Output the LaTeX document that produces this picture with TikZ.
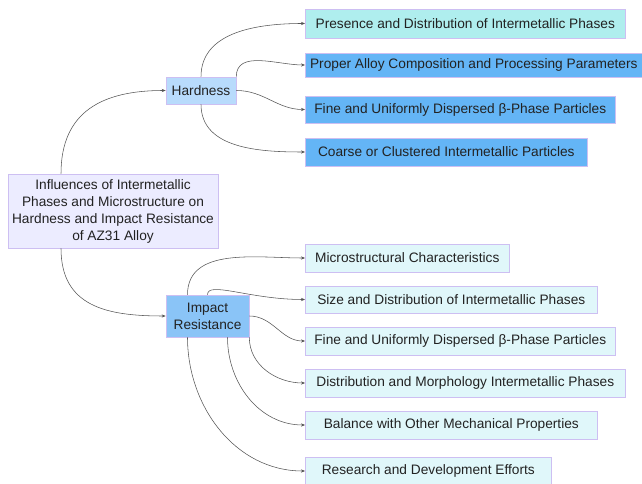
\documentclass[tikz,border=0pt]{standalone}
\usepackage{fontspec}
\setmainfont{Liberation Sans}
\usetikzlibrary{arrows.meta}
\definecolor{rootfill}{HTML}{ECECFF}
\definecolor{boxline}{HTML}{CDBFF2}
\definecolor{hardfill}{HTML}{B8DBFC}
\definecolor{impfill}{HTML}{8AC4F7}
\definecolor{presfill}{HTML}{AFEEEE}
\definecolor{hardkid}{HTML}{64B5F6}
\definecolor{impkid}{HTML}{E0F7FA}
\definecolor{linegray}{HTML}{555555}
\definecolor{inkgray}{HTML}{222222}
\tikzset{
  box/.style={draw=boxline, line width=0.6pt, inner sep=0pt, align=center,
    text=inkgray, font=\fontsize{13.7}{17}\selectfont},
  leaf/.style={box, anchor=west, minimum height=28pt},
  conn/.style={draw=linegray, line width=0.55pt, -{Stealth[length=4pt,width=3.2pt]}},
}
\begin{document}
\begin{tikzpicture}[x=1pt,y=1pt]
\useasboundingbox (0,0) rectangle (642,484);
\node[box, fill=rootfill, minimum width=210pt, minimum height=74pt] (root) at (113,273)
  {Influences of Intermetallic\\Phases and Microstructure on\\Hardness and Impact Resistance\\of AZ31 Alloy};
\node[box, fill=hardfill, minimum width=70pt, minimum height=27pt] (hard) at (201,393.5) {Hardness};
\node[box, fill=impfill, minimum width=83pt, minimum height=42pt] (imp) at (207.5,168) {Impact\\Resistance};

\node[leaf, fill=presfill, minimum width=320pt, minimum height=29pt] (pres) at (305,460.5) {Presence and Distribution of Intermetallic Phases};
\node[leaf, fill=hardkid, minimum width=337pt, minimum height=24pt] (prop) at (305,419) {Proper Alloy Composition and Processing Parameters};
\node[leaf, fill=hardkid, minimum width=310pt, minimum height=27pt] (fineh) at (305,374.5) {Fine and Uniformly Dispersed β-Phase Particles};
\node[leaf, fill=hardkid, minimum width=282pt] (coarse) at (305,332) {Coarse or Clustered Intermetallic Particles};

\node[leaf, fill=impkid, minimum width=204pt] (micro) at (305,226) {Microstructural Characteristics};
\node[leaf, fill=impkid, minimum width=292pt, minimum height=27pt] (size) at (305,184.5) {Size and Distribution of Intermetallic Phases};
\node[leaf, fill=impkid, minimum width=310pt] (finei) at (305,143) {Fine and Uniformly Dispersed β-Phase Particles};
\node[leaf, fill=impkid, minimum width=320pt] (distr) at (305,101) {Distribution and Morphology Intermetallic Phases};
\node[leaf, fill=impkid, minimum width=292pt] (bal) at (305,59) {Balance with Other Mechanical Properties};
\node[leaf, fill=impkid, minimum width=246pt] (res) at (305,13) {Research and Development Efforts};

\draw[conn] ([xshift=-52pt]root.north) to[out=90,in=180,looseness=1.2] (hard.west);
\draw[conn] ([xshift=-52pt]root.south) to[out=-90,in=180,looseness=1.2] (imp.west);

\draw[conn] (hard.north) to[out=90,in=180] (pres.west);
\draw[conn] (hard.north east) to[out=90,in=180] (prop.west);
\draw[conn] (hard.east) to[out=0,in=180] (fineh.west);
\draw[conn] (hard.south) to[out=-90,in=180] (coarse.west);

\draw[conn] ([xshift=-20pt]imp.north) to[out=90,in=180] (micro.west);
\draw[conn] (imp.north) .. controls +(0,14) and +(-55,0) .. (size.west);
\draw[conn] (imp.east) to[out=0,in=180] (finei.west);
\draw[conn] (imp.south east) to[out=-90,in=180] (distr.west);
\draw[conn] ([xshift=20pt]imp.south) to[out=-90,in=180] (bal.west);
\draw[conn] ([xshift=-20pt]imp.south) to[out=-90,in=180] (res.west);
\end{tikzpicture}
\end{document}
